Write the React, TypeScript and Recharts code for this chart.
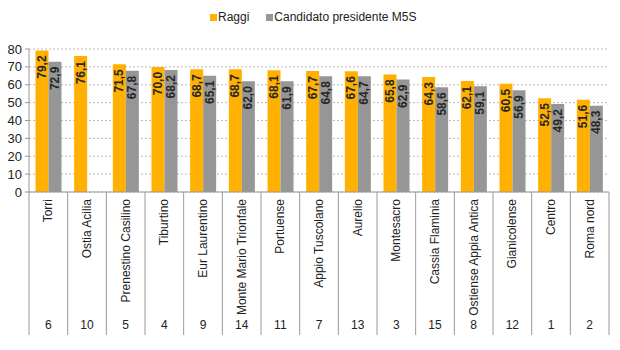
import React from 'react';
import { BarChart, Bar, XAxis, YAxis, CartesianGrid, LabelList, Legend } from 'recharts';

const categories = [
  'Torri', 'Ostia Acilia', 'Prenestino Casilino', 'Tiburtino', 'Eur Laurentino',
  'Monte Mario Trionfale', 'Portuense', 'Appio Tuscolano', 'Aurelio', 'Montesacro',
  'Cassia Flaminia', 'Ostiense Appia Antica', 'Gianicolense', 'Centro', 'Roma nord',
];
const municipi = [6, 10, 5, 4, 9, 14, 11, 7, 13, 3, 15, 8, 12, 1, 2];
const raggi = [79.2, 76.1, 71.5, 70.0, 68.7, 68.7, 68.1, 67.7, 67.6, 65.8, 64.3, 62.1, 60.5, 52.5, 51.6];
const m5s = [72.9, null, 67.8, 68.2, 65.1, 62.0, 61.9, 64.8, 64.7, 62.9, 58.6, 59.1, 56.9, 49.2, 48.3];
const yTicks = [0, 10, 20, 30, 40, 50, 60, 70, 80];

const seriesNames = ['Raggi', 'Candidato presidente M5S'];
const colors = ['#FFB000', '#969696'];

const data = categories.map((c, i) => ({ name: c, num: municipi[i], raggi: raggi[i], m5s: m5s[i] }));

const W = 620;
const H = 350;
const M = { top: 35, right: 11, left: 0, bottom: 0 };
const Y_W = 29;
const X_H = 158;
const plotW = W - M.left - M.right - Y_W;
const FONT = 'Liberation Sans, Arial, sans-serif';

const fmt = (v: any) => (v == null ? '' : Number(v).toFixed(1).replace('.', ','));

const BarLabel = (props: any) => {
  const { x, y, width, value } = props;
  if (value == null) return null;
  const cx = x + width / 2;
  const cy = y + 5;
  return (
    <text x={cx} y={cy} transform={`rotate(-90 ${cx} ${cy})`} textAnchor="end" dominantBaseline="central"
      fontSize={12} fontWeight="bold" fontFamily={FONT} fill="#262626">
      {fmt(value)}
    </text>
  );
};

const CatTick = (props: any) => {
  const { x, y, payload, index } = props;
  const bw = plotW / categories.length;
  const lx = x - bw / 2;
  const rx = x + bw / 2;
  const ty = y + 7;
  return (
    <g>
      <line x1={lx} y1={y} x2={lx} y2={y + 143} stroke="#999" strokeWidth={1} />
      {index === categories.length - 1 && (
        <line x1={rx} y1={y} x2={rx} y2={y + 143} stroke="#999" strokeWidth={1} />
      )}
      <text x={x} y={ty} transform={`rotate(-90 ${x} ${ty})`} textAnchor="end" dominantBaseline="central"
        fontSize={12} fontFamily={FONT} fill="#222">
        {payload.value}
      </text>
      <text x={x} y={y + 137} textAnchor="middle" fontSize={12} fontFamily={FONT} fill="#222">
        {municipi[index]}
      </text>
    </g>
  );
};

const LegendContent = () => (
  <div style={{ display: 'flex', alignItems: 'center', fontFamily: FONT, fontSize: 12, color: '#222' }}>
    {seriesNames.map((n, i) => (
      <div key={n} style={{ display: 'flex', alignItems: 'center', marginRight: i === 0 ? 17 : 0 }}>
        <span style={{ width: 7, height: 7, background: colors[i], display: 'inline-block', marginRight: 1 }} />
        <span>{n}</span>
      </div>
    ))}
  </div>
);

export default function App() {
  return (
    <div style={{ position: 'absolute', left: 0, top: 0, background: '#fff' }}>
      <BarChart width={W} height={H} data={data} margin={M} barCategoryGap={6.5} barGap={0}>
        <CartesianGrid vertical={false} stroke="#bbb" strokeDasharray="2 2" />
        <XAxis dataKey="name" height={X_H} interval={0} tickSize={0} tickMargin={0}
          axisLine={{ stroke: '#999' }} tickLine={false} tick={<CatTick />} />
        <YAxis width={Y_W} domain={[0, 80]} ticks={yTicks} interval={0} tickSize={4} tickMargin={3}
          axisLine={{ stroke: '#999' }} tickLine={{ stroke: '#999' }}
          tick={{ fontSize: 13, fontFamily: FONT, fill: '#222' }} />
        <Legend verticalAlign="top" align="left" content={<LegendContent />}
          wrapperStyle={{ top: 10, left: 210, width: 300 }} />
        <Bar dataKey="raggi" name={seriesNames[0]} fill={colors[0]} isAnimationActive={false}>
          <LabelList dataKey="raggi" content={<BarLabel />} />
        </Bar>
        <Bar dataKey="m5s" name={seriesNames[1]} fill={colors[1]} isAnimationActive={false}>
          <LabelList dataKey="m5s" content={<BarLabel />} />
        </Bar>
      </BarChart>
    </div>
  );
}
